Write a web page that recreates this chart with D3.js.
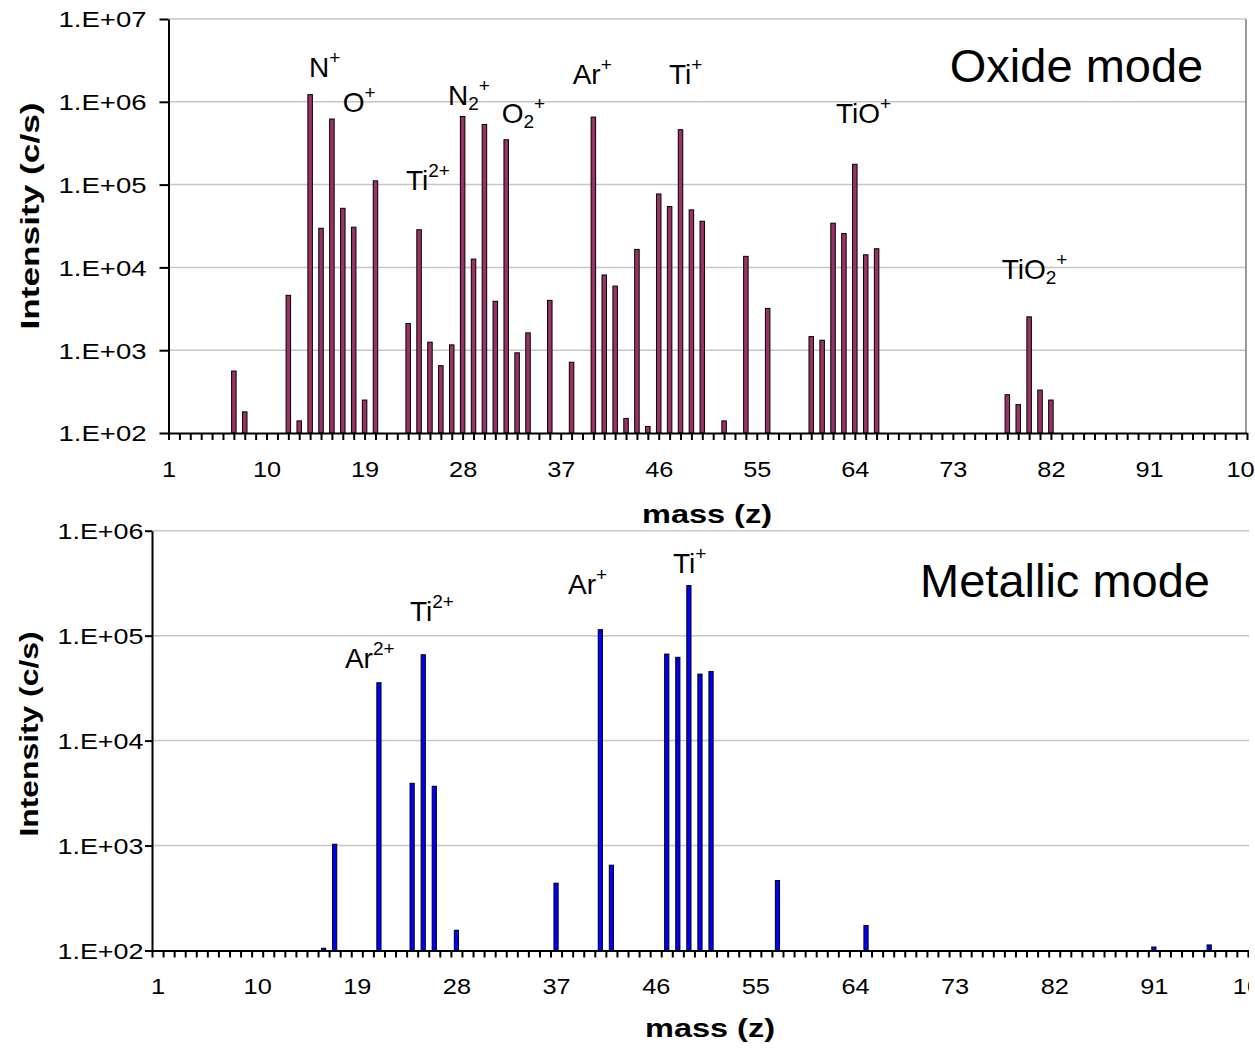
<!DOCTYPE html>
<html lang="en">
<head>
<meta charset="UTF-8">
<title>Mass spectra: oxide and metallic mode</title>
<script src="https://cdnjs.cloudflare.com/ajax/libs/d3/7.8.5/d3.min.js"></script>
<style>
  body { margin: 0; background: #fff; }
  svg { display: block; font-family: "Liberation Sans", Arial, sans-serif; }
  .domain { stroke: #000; stroke-width: 2; }
  .tick line { stroke: #000; stroke-width: 2; }
</style>
</head>
<body>
<svg id="chart" width="1255" height="1048"></svg>
<script>
// ---- data ----
const oxideMass = [7, 8, 12, 13, 14, 15, 16, 17, 18, 19, 20, 23, 24, 25, 26, 27, 28, 29, 30, 31, 32, 33, 34, 36, 38,
                   40, 41, 42, 43, 44, 45, 46, 47, 48, 49, 50, 52, 54, 56, 60, 61, 62, 63, 64, 65, 66, 78, 79, 80, 81, 82];
const oxideIntensity = [560, 180, 4600, 140, 1.22e6, 29700, 6.2e5, 51700, 30600, 250, 1.11e5, 2100, 28500, 1250, 650,
                        1160, 6.65e5, 12600, 5.33e5, 3900, 3.48e5, 930, 1620, 4000, 715, 6.53e5, 8100, 5950, 150, 16500,
                        120, 77000, 54300, 4.6e5, 49500, 36100, 140, 13600, 3200, 1460, 1320, 34200, 25700, 1.76e5,
                        14200, 16800, 290, 220, 2530, 330, 250];

const metalMass = [16, 17, 21, 24, 25, 26, 28, 37, 41, 42, 47, 48, 49, 50, 51, 57, 65, 91, 96];
const metalIntensity = [105, 1030, 35600, 3920, 65800, 3670, 156, 438, 1.14e5, 650, 66800, 62200, 3.0e5, 43000,
                        45600, 464, 173, 108, 113];

const massTicks = [1, 10, 19, 28, 37, 46, 55, 64, 73, 82, 91, 100];
const oxideDecades = [1e2, 1e3, 1e4, 1e5, 1e6, 1e7];
const metalDecades = [1e2, 1e3, 1e4, 1e5, 1e6];

// peak labels, anchored at (mass, intensity) of the label baseline start
const oxideLabels = [
  { mass: 13.9, value: 2.0e6, parts: [["N"], ["+", "sup"]] },
  { mass: 16.99, value: 7.6e5, parts: [["O"], ["+", "sup"]] },
  { mass: 22.8, value: 8.6e4, parts: [["Ti"], ["2+", "sup"]] },
  { mass: 26.66, value: 9.1e5, parts: [["N"], ["2", "sub"], ["+", "sup"]] },
  { mass: 31.59, value: 5.5e5, parts: [["O"], ["2", "sub"], ["+", "sup"]] },
  { mass: 38.1, value: 1.64e6, parts: [["Ar"], ["+", "sup"]] },
  { mass: 46.94, value: 1.64e6, parts: [["Ti"], ["+", "sup"]] },
  { mass: 62.27, value: 5.5e5, parts: [["TiO"], ["+", "sup"]] },
  { mass: 77.48, value: 7200, parts: [["TiO"], ["2", "sub"], ["+", "sup"]] }
];
const metalLabels = [
  { mass: 17.93, value: 4.93e4, parts: [["Ar"], ["2+", "sup"]] },
  { mass: 23.8, value: 1.37e5, parts: [["Ti"], ["2+", "sup"]] },
  { mass: 38.08, value: 2.5e5, parts: [["Ar"], ["+", "sup"]] },
  { mass: 47.56, value: 3.92e5, parts: [["Ti"], ["+", "sup"]] }
];

const svg = d3.select("#chart");
const defs = svg.append("defs");

function drawLabel(g, x, y, lab) {
  const t = g.append("text").attr("x", x(lab.mass)).attr("y", y(lab.value))
    .attr("font-size", 28).attr("fill", "#000");
  let off = 0;
  lab.parts.forEach(([s, kind]) => {
    const target = kind === "sup" ? -13 : kind === "sub" ? 5 : 0;
    t.append("tspan").attr("dy", target - off)
      .attr("font-size", kind ? 19 : 28).text(s);
    off = target;
  });
}

function panel(o) {
  const g = svg.append("g");
  if (o.clip) {
    defs.append("clipPath").attr("id", o.id + "-clip")
      .append("rect").attr("x", 0).attr("y", 0).attr("width", o.clip).attr("height", 1048);
    g.attr("clip-path", `url(#${o.id}-clip)`);
  }
  const x = d3.scaleLinear().domain(o.xDomain).range(o.xRange);
  const y = d3.scaleLog().domain(o.yDomain).range(o.yRange);
  const yb = o.yRange[0];

  // gridlines
  g.append("g").selectAll("line").data(o.decades.slice(1)).join("line")
    .attr("x1", o.axisX).attr("x2", o.gridEnd)
    .attr("y1", d => y(d)).attr("y2", d => y(d))
    .attr("stroke", "#c6c6c6").attr("stroke-width", 1.5);

  if (o.frame) {
    g.append("line").attr("x1", o.gridEnd).attr("x2", o.gridEnd)
      .attr("y1", o.yRange[1]).attr("y2", yb)
      .attr("stroke", "#9a9a9a").attr("stroke-width", 2);
  }

  // bars
  g.append("g").selectAll("rect").data(o.mass).join("rect")
    .attr("x", d => x(d) - o.barW / 2).attr("width", o.barW)
    .attr("y", (d, i) => y(o.values[i]))
    .attr("height", (d, i) => yb - y(o.values[i]))
    .attr("fill", o.color).attr("stroke", "#000").attr("stroke-width", 1);

  // x axis: tick marks
  g.append("g").attr("transform", `translate(0,${yb})`)
    .call(d3.axisBottom(x).tickValues(o.tickPos).tickSize(7).tickSizeOuter(0).tickFormat(""));
  // x axis: labels
  const xl = g.append("g").attr("transform", `translate(0,${yb})`)
    .call(d3.axisBottom(x).tickValues(o.labelPos).tickSize(0).tickFormat((d, i) => massTicks[i]));
  xl.select(".domain").remove();
  xl.selectAll("text").attr("y", 44).attr("dy", null)
    .attr("font-size", 22).attr("font-family", null).attr("fill", "#000")
    .attr("transform", "scale(1.15,1)");

  // y axis
  const ya = g.append("g").attr("transform", `translate(${o.axisX},0)`)
    .call(d3.axisLeft(y).tickValues(o.decades).tickSize(o.yTick).tickSizeOuter(0)
      .tickFormat(d => "1.E+" + String(Math.round(Math.log10(d))).padStart(2, "0")));
  ya.selectAll("text").attr("x", -o.yLabelGap).attr("dy", "0.36em")
    .attr("font-size", 22).attr("font-family", null).attr("fill", "#000")
    .attr("textLength", o.yLabelLen).attr("lengthAdjust", "spacingAndGlyphs");

  // axis titles
  g.append("text").attr("x", o.xTitle[0]).attr("y", o.xTitle[1])
    .attr("text-anchor", "middle").attr("font-weight", "bold").attr("font-size", 25)
    .attr("textLength", 130).attr("lengthAdjust", "spacingAndGlyphs").text("mass (z)");
  g.append("text").attr("transform", `translate(${o.yTitle[0]},${o.yTitle[1]}) rotate(-90)`)
    .attr("text-anchor", "middle").attr("font-weight", "bold").attr("font-size", 26)
    .attr("textLength", o.yTitle[2]).attr("lengthAdjust", "spacingAndGlyphs").text("Intensity (c/s)");

  // peak labels and mode title
  o.labels.forEach(lab => drawLabel(g, x, y, lab));
  g.append("text").attr("x", x(o.mode.mass)).attr("y", y(o.mode.value))
    .attr("font-size", 47).text(o.mode.text);
}

panel({
  id: "oxide",
  mass: oxideMass, values: oxideIntensity, decades: oxideDecades,
  xDomain: [1, 100], xRange: [168.5, 1247],
  yDomain: [1e2, 1e7], yRange: [433, 19],
  axisX: 168.5, gridEnd: 1246, frame: true,
  tickPos: d3.range(1, 101), labelPos: massTicks,
  barW: 4.5, color: "#993366",
  yTick: 9, yLabelGap: 22, yLabelLen: 88,
  xTitle: [707, 523], yTitle: [39, 216, 227],
  labels: oxideLabels,
  mode: { text: "Oxide mode", mass: 72.72, value: 1.75e6 }
});

panel({
  id: "metal",
  mass: metalMass, values: metalIntensity, decades: metalDecades,
  xDomain: [0.5, 100.5], xRange: [152, 1259],
  yDomain: [1e2, 1e6], yRange: [950.5, 530.7],
  axisX: 152, gridEnd: 1259, frame: false, clip: 1249,
  tickPos: d3.range(0.5, 101, 1), labelPos: massTicks,
  barW: 4.2, color: "#0000ff",
  yTick: 7, yLabelGap: 8.5, yLabelLen: 86,
  xTitle: [710, 1037], yTitle: [38, 734, 205],
  labels: metalLabels,
  mode: { text: "Metallic mode", mass: 69.88, value: 2.36e5 }
});
</script>
</body>
</html>
